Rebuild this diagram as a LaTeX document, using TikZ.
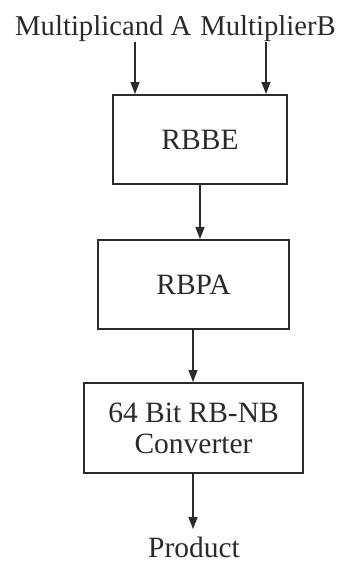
\documentclass[tikz,border=0pt]{standalone}
\usepackage{fontspec}
\setmainfont{Liberation Serif}
\usetikzlibrary{arrows.meta}
\definecolor{ink}{HTML}{2A2A2A}
\tikzset{
  blockbox/.style={draw=ink, line width=2pt, rectangle, inner sep=0pt, text=ink,
    font=\fontsize{29.5}{31}\selectfont, align=center},
  lbl/.style={text=ink, inner sep=0pt, font=\fontsize{29.5}{31}\selectfont},
  toplbl/.style={lbl, font=\fontsize{28.7}{31}\selectfont},
  flow/.style={draw=ink, line width=1.5pt, -{Triangle[length=12pt,width=9pt]}}
}
\begin{document}
\begin{tikzpicture}[x=1pt,y=-1pt]
\useasboundingbox (0,0) rectangle (342,565);
\node[toplbl, anchor=base west] (ta) at (15,35) {Multiplicand A};
\node[toplbl, anchor=base east] (tb) at (336,35) {MultiplierB};
\node[blockbox, minimum width=174pt, minimum height=89pt] (rbbe) at (200,139.5) {RBBE};
\node[blockbox, minimum width=191pt, minimum height=89pt] (rbpa) at (193.5,284.5) {RBPA};
\node[blockbox, minimum width=219pt, minimum height=90pt] (conv) at (193.5,428) {64 Bit RB-NB\\Converter};
\node[lbl, anchor=base] (prod) at (194,557) {Product};
\coordinate (ia) at (135,42);
\coordinate (ib) at (266,42);
\coordinate (oa) at (200,184);
\coordinate (ob) at (193,329);
\coordinate (pe) at (193,529);
\draw[flow] (ia) -- (ia |- rbbe.north);
\draw[flow] (ib) -- (ib |- rbbe.north);
\draw[flow] (oa) -- (oa |- rbpa.north);
\draw[flow] (ob) -- (ob |- conv.north);
\draw[flow] (ob |- conv.south) -- (pe);
\end{tikzpicture}
\end{document}
